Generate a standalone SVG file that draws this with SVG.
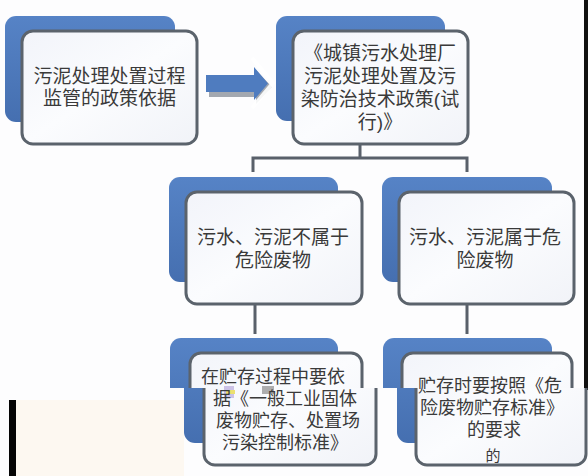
<svg xmlns="http://www.w3.org/2000/svg" width="588" height="476" viewBox="0 0 588 476">
<defs>
<linearGradient id="gb" x1="0" y1="0" x2="0" y2="1"><stop offset="0" stop-color="#5683c6"/><stop offset="1" stop-color="#456fb0"/></linearGradient>
<linearGradient id="gw" x1="0" y1="0" x2="1" y2="1"><stop offset="0" stop-color="#f2f4fa"/><stop offset="0.5" stop-color="#fbfcfe"/><stop offset="1" stop-color="#f1f3f8"/></linearGradient>
<clipPath id="cTop"><rect x="0" y="0" width="588" height="388"/></clipPath>
<clipPath id="cBot"><rect x="0" y="388" width="588" height="88"/></clipPath>
</defs>
<style>
.bk{fill:url(#gb)}
.fr{fill:url(#gw);stroke:#5b636c;stroke-width:3}
.t{font-family:"Liberation Sans","Noto Sans CJK SC",sans-serif;font-size:19px;fill:#3a3a3a;text-anchor:middle}
.s{font-size:18px}
.cn{fill:none;stroke:#59606a;stroke-width:3}
</style>
<rect width="588" height="476" fill="#fdfdfe"/>
<rect x="584" y="0" width="4" height="390" fill="#111"/>

<g id="connectors">
<path class="cn" d="M360 144V158M253 172V158H467V172"/>
<path class="cn" d="M255 304V334M467 304V334"/>
<g id="arrow">
<path d="M209 80H256V70L272 87L256 104V97H209Z" fill="#a3a8b0"/>
<path d="M252 58L273 83L252 108" fill="none" stroke="#ffffff" stroke-width="4" opacity="0.9"/>
<path d="M206 75H254V67L268 83.5L254 100V92H206Z" fill="#4f7cbf"/>
</g>
</g>

<g id="n1">
<rect class="bk" x="5" y="16" width="170" height="106" rx="11"/>
<rect class="fr" x="22" y="31" width="175" height="113" rx="11"/>
<text class="t" x="109.5" y="83">污泥处理处置过程</text>
<text class="t" x="109.5" y="105">监管的政策依据</text>
</g>

<g id="n2">
<rect class="bk" x="276" y="16" width="169" height="105" rx="11"/>
<rect class="fr" x="293" y="31" width="175" height="113" rx="11"/>
<text class="t" x="380" y="60">《城镇污水处理厂</text>
<text class="t" x="380" y="83">污泥处理处置及污</text>
<text class="t" x="380" y="106">染防治技术政策(试</text>
<text class="t" x="380" y="129">行)》</text>
</g>

<g id="n3">
<rect class="bk" x="169" y="177" width="169" height="105" rx="11"/>
<rect class="fr" x="186" y="192" width="176" height="112" rx="11"/>
<text class="t" x="273" y="244">污水、污泥不属于</text>
<text class="t" x="273" y="267">危险废物</text>
</g>

<g id="n4">
<rect class="bk" x="382" y="177" width="170" height="105" rx="11"/>
<rect class="fr" x="399" y="192" width="175" height="112" rx="11"/>
<text class="t" x="485" y="244">污水、污泥属于危</text>
<text class="t" x="485" y="267">险废物</text>
</g>

<g id="n5">
<g clip-path="url(#cTop)">
<rect class="bk" x="170" y="338" width="168" height="105" rx="11"/>
<rect class="fr" x="190" y="353" width="172" height="112" rx="11"/>
</g>
<g clip-path="url(#cBot)"><g transform="translate(14,0)">
<rect class="bk" x="170" y="338" width="168" height="105" rx="11"/>
<rect class="fr" x="190" y="353" width="172" height="112" rx="11"/>
</g></g>
<rect x="224" y="386" width="10" height="12" fill="#c0b4e0" opacity="0.8"/>
<rect x="226" y="390" width="9" height="4" fill="#ece070"/>
<rect x="262" y="386" width="12" height="8" fill="#9a9a9a" opacity="0.8"/>
<text class="t s" x="273" y="383">在贮存过程中要依</text>
<text class="t s" x="285" y="405">据《一般工业固体</text>
<text class="t s" x="288" y="427">废物贮存、处置场</text>
<text class="t s" x="285" y="449">污染控制标准》</text>
</g>

<g id="n6">
<g clip-path="url(#cTop)">
<rect class="bk" x="383" y="338" width="169" height="105" rx="11"/>
<rect class="fr" x="402" y="353" width="170" height="112" rx="11"/>
</g>
<g clip-path="url(#cBot)"><g transform="translate(14,0)">
<rect class="bk" x="383" y="338" width="169" height="105" rx="11"/>
<rect class="fr" x="402" y="353" width="170" height="112" rx="11"/>
</g></g>
<text class="t s" x="490" y="392">贮存时要按照《危</text>
<text class="t s" x="492" y="414">险废物贮存标准》</text>
<text class="t s" x="494" y="436">的要求</text>
<text class="t" x="493" y="461" style="font-size:15px">的</text>
</g>

<rect x="16" y="400" width="168" height="76" fill="#fdf8f1"/>
<rect x="9" y="400" width="7" height="76" fill="#050505"/>
</svg>
